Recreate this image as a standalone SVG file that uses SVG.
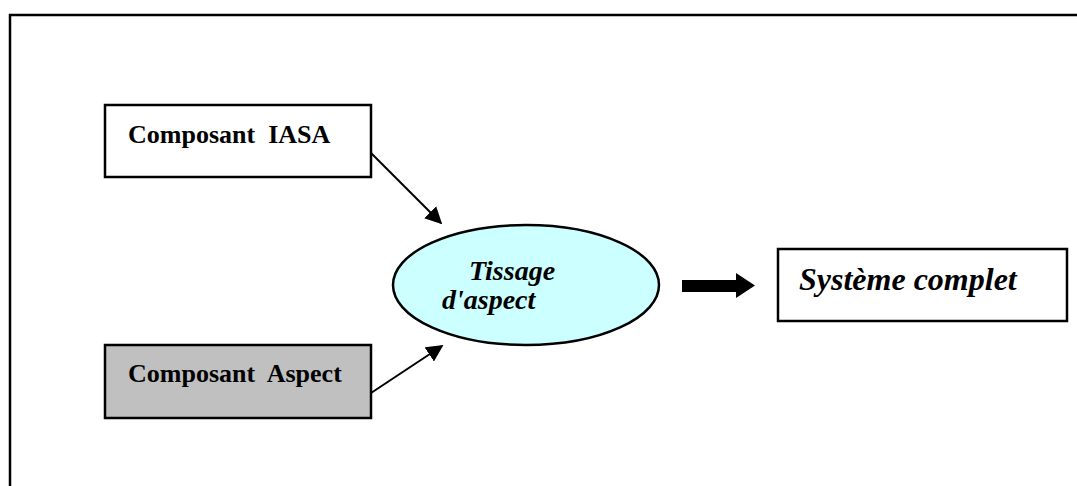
<svg xmlns="http://www.w3.org/2000/svg" width="1077" height="486" viewBox="0 0 1077 486">
<style>
.box{stroke:#000;stroke-width:2.5}
.lbl{font-family:"Liberation Serif","Times New Roman",serif;font-weight:bold;fill:#000;white-space:pre}
.it{font-style:italic}
.conn{stroke:#000;stroke-width:2;fill:none}
</style>
<defs>
<marker id="ah2" viewBox="0 0 10 10" refX="9" refY="5" markerWidth="17" markerHeight="17" markerUnits="userSpaceOnUse" orient="auto">
<path d="M0,0 L10,5 L0,10 z" fill="#000"/>
</marker>
</defs>
<rect width="1077" height="486" fill="#fff"/>
<path d="M10,490 L10,15 L1080,15" fill="none" stroke="#000" stroke-width="2.5"/>
<g id="connectors">
<line class="conn" x1="371" y1="153" x2="441" y2="223" marker-end="url(#ah2)"/>
<line class="conn" x1="371" y1="393" x2="442" y2="346" marker-end="url(#ah2)"/>
<path d="M682,280 L736,280 L736,273 L755,285.5 L736,298 L736,292 L682,292 z" fill="#000"/>
</g>
<g id="iasa">
<rect class="box" x="105" y="105" width="266" height="72" fill="#fff"/>
<text class="lbl" x="128" y="143" font-size="26" xml:space="preserve">Composant  IASA</text>
</g>
<g id="aspect">
<rect class="box" x="105" y="345" width="266" height="73" fill="#c0c0c0"/>
<text class="lbl" x="128" y="382" font-size="26" xml:space="preserve">Composant  Aspect</text>
</g>
<g id="tissage">
<ellipse class="box" cx="526" cy="285" rx="133" ry="60" fill="#ccffff"/>
<text class="lbl it" x="469" y="280" font-size="28">Tissage</text>
<text class="lbl it" x="442" y="309" font-size="28">d'aspect</text>
</g>
<g id="systeme">
<rect class="box" x="778" y="249" width="289" height="72" fill="#fff"/>
<text class="lbl it" x="799" y="290" font-size="32">Système complet</text>
</g>
</svg>
